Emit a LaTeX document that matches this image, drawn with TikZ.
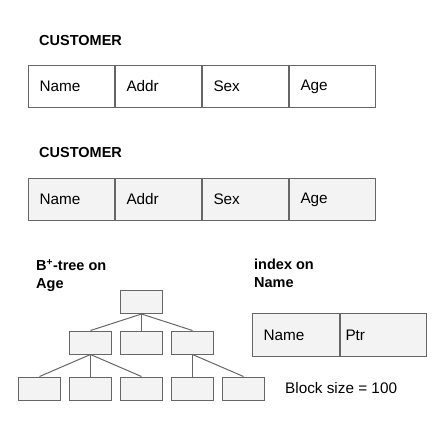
\documentclass[tikz,border=0pt]{standalone}
\usepackage{fontspec}
\setmainfont{Liberation Sans}
\usetikzlibrary{positioning}
\definecolor{boxgray}{HTML}{F3F3F3}
\definecolor{linegray}{HTML}{666666}
\begin{document}
\begin{tikzpicture}
			[x=1pt, y=1pt,
			font=\fontsize{15.3}{18}\selectfont,
			cell/.style={rectangle, draw=linegray, line width=1pt, minimum height=42pt,
				text width=64pt, inner xsep=11pt, inner ysep=0pt, align=left},
			blk/.style={rectangle, draw=linegray, fill=boxgray, line width=1pt,
				minimum width=42pt, minimum height=23pt, inner sep=0pt},
			title/.style={font=\fontsize{14.5}{18}\selectfont\bfseries, inner sep=0pt, align=left},
			edge from parent/.style={draw=linegray, line width=1pt},
			edge from parent path={(\tikzparentnode.south) -- (\tikzchildnode.north)},
			level 1/.style={sibling distance=51pt, level distance=40.5pt},
			level 2/.style={sibling distance=51pt, level distance=46pt}]
			\useasboundingbox (0,0) rectangle (434,-434);
			% plain table
			\node[title, anchor=west] (cust1) at (39,-41) {CUSTOMER};
			\node[cell, anchor=north west] (name1) at (28,-65) {Name};
			\node[cell, right=0pt of name1] (addr1) {Addr};
			\node[cell, right=0pt of addr1] (sex1) {Sex};
			\node[cell, right=0pt of sex1] (age1) {Age};
			% shaded table
			\node[title, anchor=west] (cust2) at (39,-153) {CUSTOMER};
			\node[cell, fill=boxgray, anchor=north west] (name2) at (28,-178) {Name};
			\node[cell, fill=boxgray, right=0pt of name2] (addr2) {Addr};
			\node[cell, fill=boxgray, right=0pt of addr2] (sex2) {Sex};
			\node[cell, fill=boxgray, right=0pt of sex2] (age2) {Age};
			% B+-tree
			\node[title, anchor=north west] (btree) at (36,-259) {B\textsuperscript{+}-tree on\\Age};
			\node[blk] (root) at (141.5,-302) {}
			child
			{
				node[blk]{}
				child
				{
					node[blk]{}
				}
				child
				{
					node[blk]{}
				}
				child
				{
					node[blk]{}
				}
			}
			child
			{
				node[blk]{}
			}
			child
			{
				node[blk]{}
				child[xshift=25.5pt]
				{
					node[blk]{}
				}
				child[xshift=25.5pt]
				{
					node[blk]{}
				}
			};
			% index
			\node[title, anchor=north west] (index) at (254,-259) {index on\\Name};
			\node[cell, fill=boxgray, minimum height=43pt, text width=65pt, anchor=north west] (iname) at (252,-313) {Name};
			\node[cell, fill=boxgray, minimum height=43pt, text width=76pt, inner xsep=5pt, right=0pt of iname] (iptr) {Ptr};
			\node[anchor=west, inner sep=0pt] (bsize) at (285,-388) {Block size = 100};
		\end{tikzpicture}
\end{document}
